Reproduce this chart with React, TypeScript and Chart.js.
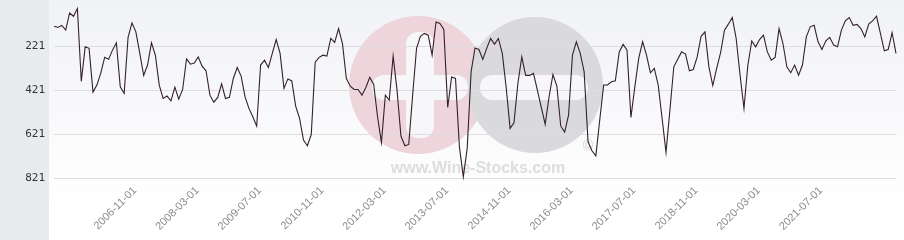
import React, { useEffect, useRef } from "react";
import { Chart, registerables } from "chart.js";

Chart.register(...registerables);

const startYear = 2005;
const startMonth = 3;
const rankValues: number[] = [
  130, 136, 127, 148, 70, 85, 50, 381, 224, 231,
  430, 398, 344, 272, 281, 239, 206, 406, 436, 181,
  115, 156, 253, 354, 307, 206, 262, 398, 459, 448,
  470, 407, 462, 418, 279, 303, 298, 270, 312, 333,
  444, 476, 454, 392, 459, 454, 368, 318, 357, 451,
  504, 542, 585, 307, 285, 318, 254, 191, 254, 413,
  370, 379, 494, 550, 648, 674, 622, 294, 272, 262,
  266, 186, 204, 141, 209, 368, 403, 418, 418, 444,
  409, 363, 394, 542, 659, 444, 466, 266, 421, 630,
  674, 668, 445, 231, 176, 163, 171, 262, 111, 118,
  145, 500, 361, 368, 679, 815, 686, 338, 229, 236,
  281, 231, 186, 212, 186, 254, 409, 595, 570, 391,
  270, 354, 354, 345, 421, 500, 576, 451, 350, 403,
  585, 612, 535, 262, 201, 254, 338, 656, 697, 720,
  557, 398, 397, 383, 379, 247, 213, 239, 545, 406,
  277, 201, 262, 342, 322, 398, 550, 704, 512, 315,
  281, 247, 257, 333, 327, 270, 176, 156, 315, 400,
  322, 251, 148, 121, 91, 186, 353, 504, 307, 197,
  224, 191, 171, 247, 285, 272, 141, 209, 315, 342,
  307, 353, 307, 179, 133, 126, 201, 236, 197, 181,
  216, 224, 148, 106, 91, 126, 122, 141, 179, 121,
  106, 85, 163, 242, 236, 160, 254,
];

const dateLabels: string[] = rankValues.map((_, i) => {
  const m0 = startMonth - 1 + i;
  const y = startYear + Math.floor(m0 / 12);
  const m = (m0 % 12) + 1;
  return `${y}-${String(m).padStart(2, "0")}-01`;
});

const shownLabels: string[] = [
  "2006-11-01", "2008-03-01", "2009-07-01", "2010-11-01", "2012-03-01", "2013-07-01",
  "2014-11-01", "2016-03-01", "2017-07-01", "2018-11-01", "2020-03-01", "2021-07-01",
];

const yTickValues: number[] = [221, 421, 621, 821];

const backgroundPlugin = {
  id: "bgWatermark",
  beforeDraw(chart: any) {
    const { ctx, width, height } = chart;
    ctx.save();
    const g = ctx.createLinearGradient(0, 0, 0, 205);
    g.addColorStop(0, "#f1f2f6");
    g.addColorStop(1, "#ffffff");
    ctx.fillStyle = g;
    ctx.fillRect(0, 0, width, height);
    ctx.fillStyle = "#e8ebee";
    ctx.fillRect(0, 0, 49, height);

    // watermark
    ctx.fillStyle = "#eed5dc";
    ctx.beginPath();
    ctx.arc(418, 85, 69, 0, Math.PI * 2);
    ctx.fill();
    ctx.fillStyle = "#dadadd";
    ctx.beginPath();
    ctx.arc(535, 85, 68, 0, Math.PI * 2);
    ctx.fill();
    ctx.fillStyle = "#f7f7f9";
    const rr = (x: number, y: number, w: number, h: number, r: number) => {
      ctx.beginPath();
      ctx.moveTo(x + r, y);
      ctx.lineTo(x + w - r, y);
      ctx.arc(x + w - r, y + r, r, -Math.PI / 2, 0);
      ctx.lineTo(x + w, y + h - r);
      ctx.arc(x + w - r, y + h - r, r, 0, Math.PI / 2);
      ctx.lineTo(x + r, y + h);
      ctx.arc(x + r, y + h - r, r, Math.PI / 2, Math.PI);
      ctx.lineTo(x, y + r);
      ctx.arc(x + r, y + r, r, Math.PI, Math.PI * 1.5);
      ctx.fill();
    };
    rr(406, 32, 28, 106, 12);
    rr(372, 75, 96, 25, 12);
    rr(480, 75, 108, 25, 12);
    ctx.fillStyle = "rgba(200,200,204,0.6)";
    ctx.font = "bold 16px 'Liberation Sans', Arial, sans-serif";
    ctx.textAlign = "center";
    ctx.textBaseline = "alphabetic";
    ctx.fillText("www.Wine-Stocks.com", 478, 173);
    ctx.font = "14px 'Liberation Sans', Arial, sans-serif";
    ctx.fillStyle = "rgba(185,185,190,0.6)";
    ctx.fillText("©", 588, 150);
    ctx.restore();
  },
};

export default function App() {
  const canvasRef = useRef<HTMLCanvasElement | null>(null);

  useEffect(() => {
    document.body.style.margin = "0";
    const canvas = canvasRef.current;
    if (!canvas) return;
    const chart = new Chart(canvas, {
      type: "line",
      data: {
        labels: dateLabels,
        datasets: [
          {
            data: rankValues,
            borderColor: "#35202a",
            borderWidth: 1.1,
            pointRadius: 0,
            tension: 0,
            fill: false,
            clip: false,
          },
        ],
      },
      options: {
        responsive: false,
        animation: false,
        layout: { padding: { left: 0, right: 8, top: 0, bottom: 0 } },
        plugins: {
          legend: { display: false },
          tooltip: { enabled: false },
        },
        scales: {
          x: {
            type: "category",
            offset: false,
            grid: { display: false, drawTicks: false },
            border: { display: false },
            afterFit(scale: any) {
              scale.height = 56;
            },
            ticks: {
              autoSkip: false,
              minRotation: 45,
              maxRotation: 45,
              padding: 0,
              labelOffset: 3,
              color: "#8c8c8c",
              font: { family: "'Liberation Sans', Arial, sans-serif", size: 11 },
              callback(_v: any, idx: number) {
                const l = dateLabels[idx];
                return shownLabels.includes(l) ? l : null;
              },
            },
          },
          y: {
            reverse: true,
            min: 82,
            max: 848,
            afterBuildTicks(scale: any) {
              scale.ticks = yTickValues.map((v) => ({ value: v }));
            },
            afterFit(scale: any) {
              scale.width = 54;
            },
            grid: { color: "#dedee0", lineWidth: 1, drawTicks: false },
            border: { display: false },
            ticks: {
              padding: 9,
              color: "#333333",
              font: { family: "'DejaVu Sans Mono', monospace", size: 11 },
              callback(v: any) {
                return String(v);
              },
            },
          },
        },
      },
      plugins: [backgroundPlugin],
    });
    return () => chart.destroy();
  }, []);

  return (
    <div style={{ width: 904, height: 240 }}>
      <canvas ref={canvasRef} width={904} height={240} style={{ display: "block" }} />
    </div>
  );
}
